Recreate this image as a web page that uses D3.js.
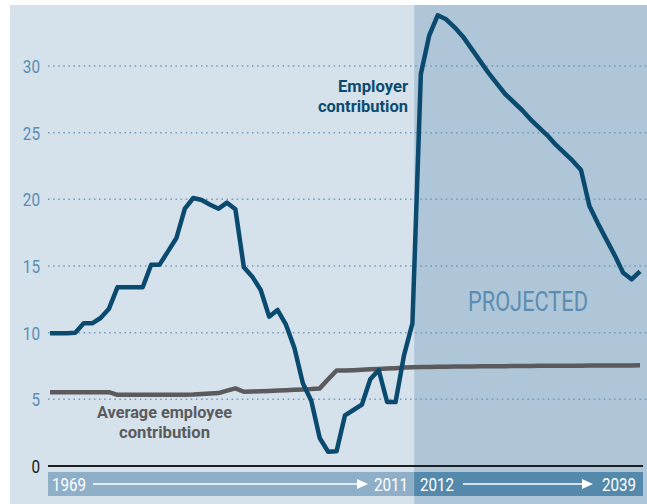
<!DOCTYPE html>
<html>
<head>
<meta charset="utf-8">
<script src="https://cdn.jsdelivr.net/npm/d3@7"></script>
<style>
  body { margin: 0; background: #fff; }
  svg text { font-family: Roboto, "Liberation Sans", sans-serif; }
</style>
</head>
<body>
<div id="chart"></div>
<script>
const firstYear = 1969;
const lastYear = 2039;
const projectedFrom = 2012;

// employer contribution, % of payroll, one value per year 1969..2039
const employer = [
  9.95, 9.95, 9.95, 10.0, 10.7, 10.7, 11.1, 11.8, 13.4, 13.4,
  13.4, 13.4, 15.1, 15.1, 16.1, 17.1, 19.3, 20.1, 19.95, 19.6,
  19.3, 19.75, 19.25, 14.9, 14.2, 13.2, 11.2, 11.7, 10.6, 8.85,
  6.2, 4.9, 2.1, 1.07, 1.1, 3.8, 4.2, 4.6, 6.5, 7.2,
  4.8, 4.8, 8.3, 10.7, 29.4, 32.3, 33.8, 33.5, 32.9, 32.2,
  31.3, 30.4, 29.5, 28.7, 27.9, 27.3, 26.7, 26.0, 25.4, 24.8,
  24.1, 23.5, 22.9, 22.2, 19.5, 18.2, 17.0, 15.8, 14.5, 14.0,
  14.6
];

// average employee contribution, 1969..2039
const employee = [
  5.54, 5.54, 5.54, 5.54, 5.54, 5.54, 5.54, 5.54, 5.34, 5.34,
  5.34, 5.34, 5.34, 5.34, 5.34, 5.34, 5.34, 5.36, 5.4, 5.43,
  5.47, 5.65, 5.82, 5.57, 5.59, 5.61, 5.63, 5.66, 5.68, 5.71,
  5.74, 5.77, 5.82, 6.5, 7.16, 7.16, 7.19, 7.22, 7.25, 7.28,
  7.31, 7.34, 7.38, 7.41, 7.42, 7.43, 7.44, 7.45, 7.46, 7.47,
  7.47, 7.48, 7.48, 7.49, 7.49, 7.5, 7.5, 7.5, 7.51, 7.51,
  7.51, 7.52, 7.52, 7.52, 7.53, 7.53, 7.53, 7.54, 7.54, 7.54,
  7.55
];

const yTicks = [0, 5, 10, 15, 20, 25, 30];

const W = 647, H = 504;
const svg = d3.select('#chart').append('svg')
  .attr('width', W).attr('height', H);

const x = d3.scaleLinear().domain([firstYear, lastYear]).range([50, 640]);
const y = d3.scaleLinear().domain([0, 30]).range([466, 66]);
const splitX = x(projectedFrom + 0.2);

// panels
svg.append('rect')
  .attr('x', 10).attr('y', 5)
  .attr('width', splitX - 10).attr('height', H - 5)
  .attr('fill', '#d5e2eb');
svg.append('rect')
  .attr('x', splitX).attr('y', 5)
  .attr('width', W - splitX).attr('height', H - 5)
  .attr('fill', '#afc6d9');

// dotted grid
svg.append('g')
  .selectAll('line')
  .data(yTicks.filter(d => d > 0))
  .enter().append('line')
  .attr('x1', 48).attr('x2', W)
  .attr('y1', d => y(d)).attr('y2', d => y(d))
  .attr('stroke', '#6b9bc0')
  .attr('stroke-width', 1.5)
  .attr('stroke-dasharray', '1.5,3.6');

// y labels
svg.append('g')
  .selectAll('text')
  .data(yTicks)
  .enter().append('text')
  .attr('x', d => 40 - String(d).length * 8.6).attr('y', d => y(d) + 7)
  .attr('font-size', '19px')
  .attr('textLength', d => String(d).length * 8.6)
  .attr('lengthAdjust', 'spacingAndGlyphs')
  .attr('fill', d => d === 0 ? '#1a1a1a' : '#5b8db2')
  .text(d => d);

// zero line
svg.append('line')
  .attr('x1', 48).attr('x2', 643)
  .attr('y1', y(0)).attr('y2', y(0))
  .attr('stroke', '#1e1e1e').attr('stroke-width', 2.2);

// year band
svg.append('rect')
  .attr('x', 48).attr('y', 472)
  .attr('width', splitX - 48).attr('height', 24)
  .attr('fill', '#8fafc9');
svg.append('rect')
  .attr('x', splitX).attr('y', 472)
  .attr('width', 643 - splitX).attr('height', 24)
  .attr('fill', '#5589ab');

const band = [
  { from: '1969', to: '2011', x0: 52, a0: 93, a1: 368, x1: 408 },
  { from: '2012', to: '2039', x0: 420, a0: 463, a1: 593, x1: 636 }
];
band.forEach(b => {
  svg.append('text').attr('x', b.x0).attr('y', 491)
    .attr('font-size', '18px').attr('fill', '#fff')
    .attr('textLength', 34).attr('lengthAdjust', 'spacingAndGlyphs')
    .text(b.from);
  svg.append('text').attr('x', b.x1 - 34).attr('y', 491)
    .attr('font-size', '18px').attr('fill', '#fff')
    .attr('textLength', 34).attr('lengthAdjust', 'spacingAndGlyphs')
    .text(b.to);
  svg.append('line')
    .attr('x1', b.a0).attr('x2', b.a1 - 6)
    .attr('y1', 484).attr('y2', 484)
    .attr('stroke', '#fff').attr('stroke-width', 1.5);
  svg.append('path')
    .attr('d', `M${b.a1},484 L${b.a1 - 11},479 L${b.a1 - 11},489 Z`)
    .attr('fill', '#fff');
});

// lines
const line = d3.line()
  .x((d, i) => x(firstYear + i))
  .y(d => y(d));

svg.append('path')
  .datum(employee)
  .attr('d', line)
  .attr('fill', 'none')
  .attr('stroke', '#5b5b5d')
  .attr('stroke-width', 4.5)
  .attr('stroke-linejoin', 'round');

svg.append('path')
  .datum(employer)
  .attr('d', line)
  .attr('fill', 'none')
  .attr('stroke', '#0b4a6f')
  .attr('stroke-width', 4.5)
  .attr('stroke-linejoin', 'round');

// labels (condensed look via textLength)
function label(txt, x0, y0, len, color, size, weight) {
  svg.append('text')
    .attr('x', x0).attr('y', y0)
    .attr('font-size', size).attr('font-weight', weight)
    .attr('fill', color)
    .attr('textLength', len).attr('lengthAdjust', 'spacingAndGlyphs')
    .text(txt);
}
label('Employer', 338, 92, 70, '#0b4a6f', '17px', 'bold');
label('contribution', 318, 112, 90, '#0b4a6f', '17px', 'bold');
label('Average employee', 97, 418, 135, '#5b5b5d', '17px', 'bold');
label('contribution', 119, 438, 91, '#5b5b5d', '17px', 'bold');
label('PROJECTED', 468, 311, 120, '#5b8db2', '28px', 'normal');
</script>
</body>
</html>
